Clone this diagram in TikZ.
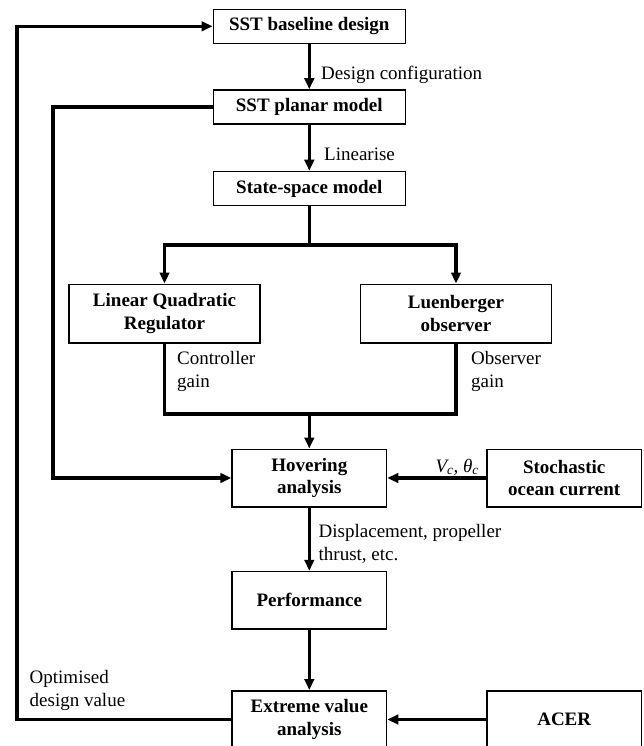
\documentclass[tikz,border=0pt]{standalone}
\usepackage{fontspec}
\setmainfont{Liberation Serif}
\usetikzlibrary{arrows.meta}
\begin{document}
\begin{tikzpicture}[x=1pt,y=-1pt,
  box/.style={draw=black,line width=1.5pt,fill=white,inner sep=0pt,align=center,
    font=\fontsize{19}{22.7}\selectfont\bfseries},
  wide/.style={box,minimum width=192pt,minimum height=34pt},
  twol/.style={box,minimum width=191pt,minimum height=58.5pt},
  mid/.style={box,minimum width=154.5pt,minimum height=57.5pt},
  lab/.style={inner sep=0pt,align=left,font=\fontsize{19}{23}\selectfont},
  conn/.style={line width=3.3pt},
  arr/.style={conn,-{Triangle[length=11pt,width=9.5pt]}}]
\useasboundingbox (0,0) rectangle (643,746);
\clip (0,0) rectangle (643,746);
\fill[white] (0,0) rectangle (643,746);
% boxes
\node[wide] (base) at (309.3,26.3) {SST baseline design};
\node[wide] (planar) at (309.3,107) {SST planar model};
\node[wide] (ss) at (309.3,188.5) {State-space model};
\node[twol] (lqr) at (164.5,313.5) {Linear Quadratic\\Regulator};
\node[twol] (lue) at (456,313.5) {Luenberger\\observer};
\node[mid] (hov) at (309.3,478) {Hovering\\analysis};
\node[mid] (sto) at (564.2,478) {Stochastic\\ocean current};
\node[mid] (perf) at (309.3,600.3) {Performance};
\node[mid] (eva) at (309.3,719.5) {Extreme value\\analysis};
\node[mid] (acer) at (564.2,719.5) {ACER};
% coordinates
\coordinate (br) at (309.3,245);
\coordinate (mg) at (309.3,414);
\coordinate (lp) at (53,0);
\coordinate (op) at (17,0);
% connectors
\draw[arr] (base.south) -- (planar.north);
\draw[arr] (planar.south) -- (ss.north);
\draw[conn] (ss.south) -- (br);
\draw[arr] (br) -| (lqr.north);
\draw[arr] (br) -| (lue.north);
\draw[conn] (lqr.south) |- (mg);
\draw[conn] (lue.south) |- (mg);
\draw[arr] (mg) -- (hov.north);
\draw[arr] (planar.west) -- (planar.west -| lp) -- (hov.west -| lp) -- (hov.west);
\draw[arr] (sto.west) -- (hov.east);
\draw[arr] (hov.south) -- (perf.north);
\draw[arr] (perf.south) -- (eva.north);
\draw[arr] (acer.west) -- (eva.east);
\draw[arr] (eva.west) -- (eva.west -| op) -- (base.west -| op) -- (base.west);
% labels
\node[lab,anchor=west] (l1) at (321,75) {Design configuration};
\node[lab,anchor=west] (l2) at (324,154) {Linearise};
\node[lab,anchor=west] (l3) at (177,371.5) {Controller\\gain};
\node[lab,anchor=west] (l4) at (471,371.5) {Observer\\gain};
\node[lab,anchor=east] (l5) at (479,467) {\itshape V\textsubscript{c}, θ\textsubscript{c}};
\node[lab,anchor=west] (l6) at (318.5,544) {Displacement, propeller\\thrust, etc.};
\node[lab,anchor=west] (l7) at (29.5,690) {Optimised\\design value};
\end{tikzpicture}
\end{document}
